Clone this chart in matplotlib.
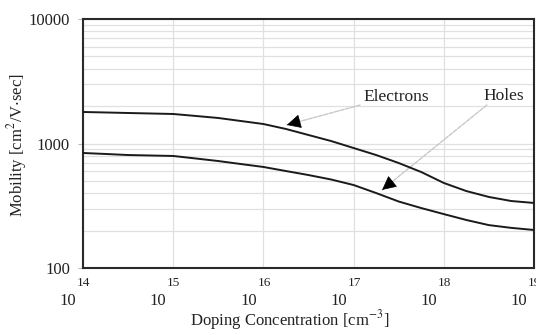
import numpy as np
import matplotlib
matplotlib.use("Agg")
import matplotlib.pyplot as plt
from matplotlib.ticker import LogLocator, NullFormatter, FixedLocator

plt.rcParams['font.family'] = ['Liberation Serif', 'DejaVu Serif']
plt.rcParams['mathtext.fontset'] = 'stix'

# ---- data ----
doping_exp = [14.0, 14.25, 14.5, 14.75, 15.0, 15.25, 15.5, 15.75, 16.0, 16.25,
              16.5, 16.75, 17.0, 17.25, 17.5, 17.75, 18.0, 18.25, 18.5, 18.75, 19.0]
electron_mobility = [1791, 1775, 1758, 1742, 1726, 1664, 1603, 1516, 1434, 1308,
                     1170, 1047, 920, 808, 697, 590, 482, 415, 372, 345, 333]
hole_mobility = [839, 824, 808, 801, 794, 758, 723, 684, 648, 601,
                 558, 514, 464, 400, 342, 303, 271, 243, 221, 210, 202]

x_decades = [14, 15, 16, 17, 18, 19]
y_ticks = [100, 1000, 10000]
y_ticklabels = ["100", "1000", "10000"]

label_electrons = "Electrons"
label_holes = "Holes"
xlabel = "Doping Concentration [cm$^{-3}$]"
ylabel = "Mobility [cm$^{2}$/V$\\cdot$sec]"

# annotation anchor points (data coords)
e_text = (2.95e17, 2361)
e_tail = (1.18e17, 2037)
e_tip = (1.82e16, 1409)
h_text = (4.6e18, 2410)
h_tail = (3.0e18, 2037)
h_tip = (2.07e17, 424)

# ---- figure ----
fig = plt.figure(figsize=(5.36, 3.31), dpi=100)
ax = fig.add_axes([83/536, 63/331, 451/536, 249/331])

N = [10**e for e in doping_exp]
ax.plot(N, electron_mobility, color='#1a1a1a', lw=1.4, zorder=3)
ax.plot(N, hole_mobility, color='#1a1a1a', lw=1.4, zorder=3)

ax.set_xscale('log')
ax.set_yscale('log')
ax.set_xlim(10**x_decades[0], 10**x_decades[-1])
ax.set_ylim(100, 10000)

# grid
ax.yaxis.set_major_locator(FixedLocator(y_ticks))
ax.yaxis.set_minor_locator(LogLocator(base=10, subs=np.arange(2, 10)))
ax.yaxis.set_minor_formatter(NullFormatter())
ax.set_yticks(y_ticks)
ax.set_yticklabels(y_ticklabels)
ax.xaxis.set_major_locator(FixedLocator([10**d for d in x_decades]))
ax.xaxis.set_minor_locator(FixedLocator([]))
ax.set_xticklabels([])
ax.grid(True, which='both', axis='y', color='#e0e0e0', lw=0.9, zorder=0)
ax.grid(True, which='major', axis='x', color='#e0e0e0', lw=0.9, zorder=0)
ax.tick_params(axis='y', which='major', length=3.6, width=0.8, color='#bbbbbb',
               pad=5.8, labelsize=12, labelcolor='#222222')
ax.tick_params(axis='y', which='minor', length=0)
ax.tick_params(axis='x', which='both', length=0)

for s in ax.spines.values():
    s.set_linewidth(1.5)
    s.set_color('#2a2a2a')

# x tick labels as 10 with raised exponent
for d in x_decades:
    ax.annotate("10", xy=(10**d, 0), xycoords=('data', 'axes fraction'),
                xytext=(-15, -33), textcoords='offset pixels',
                ha='center', va='center', fontsize=12, color='#222222',
                annotation_clip=False)
    ax.annotate(str(d), xy=(10**d, 0), xycoords=('data', 'axes fraction'),
                xytext=(-6, -15), textcoords='offset pixels',
                ha='left', va='center', fontsize=9.5, color='#222222',
                annotation_clip=False)

fig.text(290/536, 1 - 320/331, xlabel, ha='center', va='center',
         fontsize=12, color='#222222')
fig.text(17/536, 1 - 145/331, ylabel, ha='center', va='center',
         rotation=90, fontsize=12, color='#222222')

# labels with arrows
ax.text(*e_text, label_electrons, ha='center', va='center', fontsize=12.5, color='#222222', zorder=4)
ax.text(*h_text, label_holes, ha='center', va='center', fontsize=12.5, color='#222222', zorder=4)

for tail, tip, off in [(e_tail, e_tip, (13, 3.6)), (h_tail, h_tip, (10.5, 8.5))]:
    ax.annotate('', xy=tip, xytext=tail,
                arrowprops=dict(arrowstyle='-', color='#c8c8c8', lw=1.0,
                                linestyle=(0, (3, 1)), shrinkA=0, shrinkB=0),
                zorder=2)
    ax.annotate('', xy=tip, xytext=off, textcoords='offset pixels',
                arrowprops=dict(arrowstyle='-|>,head_length=0.9,head_width=0.45',
                                color='black', lw=0.5, shrinkA=0, shrinkB=0),
                zorder=4)

fig.savefig('out.png', dpi=100, facecolor='white')
